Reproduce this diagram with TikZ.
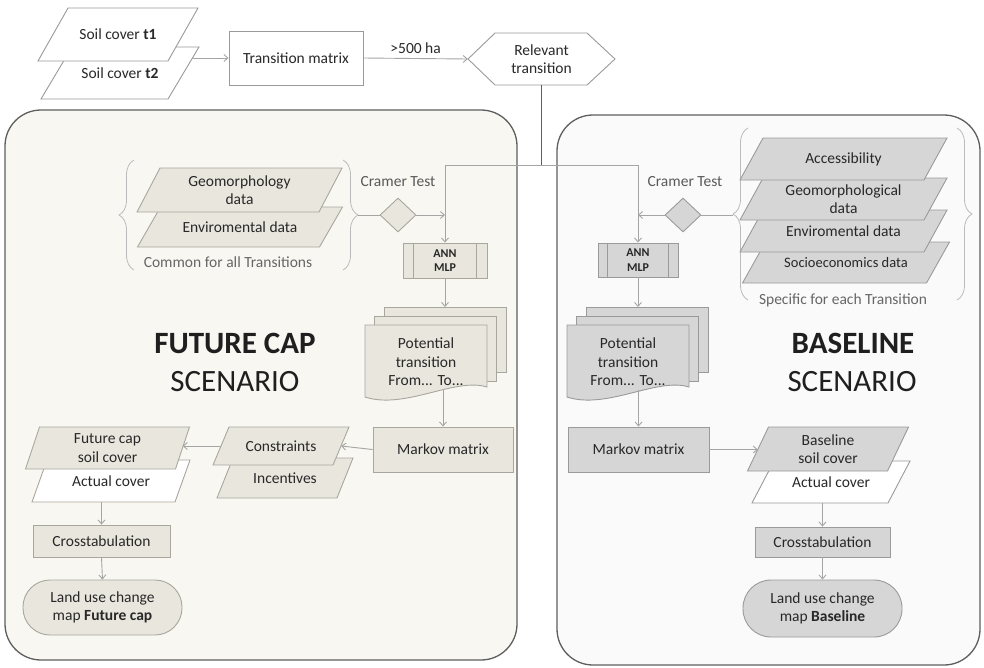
\documentclass[tikz,border=0pt]{standalone}
\usepackage{fontspec}
\setmainfont{Carlito}
\usetikzlibrary{arrows.meta,shapes.geometric,decorations.pathreplacing,calc}
\definecolor{beige}{HTML}{E9E6DD}
\definecolor{beigeb}{HTML}{A9A69E}
\definecolor{grayf}{HTML}{D6D6D6}
\definecolor{grayb}{HTML}{9A9A9A}
\definecolor{panL}{HTML}{F8F7F2}
\definecolor{panR}{HTML}{FAFAFA}
\definecolor{panB}{HTML}{5E5E5E}
\definecolor{txt}{HTML}{282828}
\definecolor{lnc}{HTML}{A5A5A5}
\definecolor{brc}{HTML}{BBBBBB}

\tikzset{
  txtnode/.style={inner sep=0pt, align=center, text=txt, font=\fontsize{15.5}{18.5}\selectfont},
  wshape/.style={fill=white, draw=grayb, line width=0.9pt},
  wbshape/.style={fill=white, draw=beigeb, line width=0.9pt},
  bshape/.style={fill=beige, draw=beigeb, line width=0.9pt},
  gshape/.style={fill=grayf, draw=grayb, line width=0.9pt},
  bbox/.style={txtnode, rectangle, fill=beige, draw=beigeb, line width=0.9pt},
  gbox/.style={txtnode, rectangle, fill=grayf, draw=grayb, line width=0.9pt},
  topbox/.style={txtnode, rectangle, fill=white, draw=grayb, line width=0.9pt},
  annbox/.style={rectangle, inner sep=0pt, align=center, text=txt, font=\bfseries\fontsize{12}{14.5}\selectfont, minimum width=84pt, minimum height=35pt, line width=0.9pt},
  panel/.style={rectangle, draw=panB, line width=1.3pt, rounded corners=36pt, inner sep=0pt},
  ln/.style={draw=lnc, line width=0.9pt},
  arr/.style={ln, -{Straight Barb[length=4pt,width=7pt]}},
  darkln/.style={draw=panB, line width=1.3pt},
  bracest/.style={draw=brc, line width=0.8pt, decorate, decoration={brace, amplitude=15pt}},
  title/.style={inner sep=0pt, text=black!88, font=\fontsize{31}{36}\selectfont},
  note/.style={txtnode, text=black!60},
}

% parallelogram: name, cx, cy, mid width, height, slant, style, text
\newcommand\pgram[8]{%
  \filldraw[#7] ({#2-#4/2+#6/2},{#3-#5/2}) -- ++(#4,0) -- ++({-#6},#5) -- ++({-#4},0) -- cycle;
  \node[txtnode, minimum width=#4pt, minimum height=#5pt] (#1) at (#2,#3) {#8};
}
% document stack: name, front x, front top y, style, text
\newcommand\docstack[5]{%
  \filldraw[#4] ({#2+19},{#3-18}) rectangle ({#2+141},{#3+47});
  \filldraw[#4] ({#2+9},{#3-9}) rectangle ({#2+131},{#3+56});
  \filldraw[#4] (#2,#3) -- ({#2+122},#3) -- ({#2+122},{#3+62}) .. controls ({#2+90},{#3+52}) and ({#2+40},{#3+85}) .. (#2,{#3+72}) -- cycle;
  \node[txtnode, minimum width=122pt, minimum height=65pt, anchor=north] (#1) at ({#2+61},{#3+4}) {#5};
  \coordinate (#1top) at ({#2+80},{#3-18});
}

\begin{document}
\begin{tikzpicture}[x=1pt,y=-1pt]
\useasboundingbox (0,0) rectangle (984,667);

% panels
\node[panel, fill=panL, minimum width=512pt, minimum height=550pt] (panelL) at (261,385) {};
\node[panel, fill=panR, minimum width=423pt, minimum height=550pt] (panelR) at (768.5,390) {};

% top row
\pgram{t2}{120}{73}{127}{52}{31}{wshape}{Soil cover \textbf{t2}}
\pgram{t1}{118}{34.5}{130}{53}{30}{wshape}{Soil cover \textbf{t1}}
\node[topbox, minimum width=134pt, minimum height=54pt] (trans) at (296,58) {Transition matrix};
\filldraw[wshape] (468,59) -- (495,33) -- (587,33) -- (615,59) -- (587,85) -- (495,85) -- cycle;
\node[txtnode, minimum width=147pt, minimum height=52pt] (rel) at (541.5,59) {Relevant\\transition};
\coordinate (soilout) at (192,58);
\draw[arr] (soilout) -- (trans.west);
\draw[arr] (trans.east) -- node[txtnode, midway, above=4pt] (ha) {>500 ha} (rel.west);

% left panel
\draw[bracest] (134,270) -- (134,160);
\draw[bracest] (343,160) -- (343,270);
\coordinate (bLr) at (358,215);
\pgram{envL}{240}{227}{182}{40}{23}{bshape}{Enviromental data}
\pgram{geoL}{239.5}{190}{182}{44}{23}{bshape}{Geomorphology\\data}
\node[note] (commonL) at (228,262) {Common for all Transitions};
\node[txtnode, text=black!65] (cramL) at (398,182) {Cramer Test};
\node[diamond, aspect=1.06, fill=beige, draw=beigeb, line width=0.9pt, minimum width=36pt, minimum height=34pt, inner sep=0pt] (dL) at (398,215) {};
\node[annbox, fill=beige, draw=beigeb] (annL) at (445,260.5) {ANN\\MLP};
\draw[draw=beigeb, line width=0.9pt] ([xshift=11pt]annL.north west) -- ([xshift=11pt]annL.south west);
\draw[draw=beigeb, line width=0.9pt] ([xshift=-11pt]annL.north east) -- ([xshift=-11pt]annL.south east);
\docstack{docL}{365}{325}{bshape}{Potential\\transition\\From... To...}
\node[title, font=\bfseries\fontsize{31}{36}\selectfont] (futL1) at (235,343) {FUTURE CAP};
\node[title] (futL2) at (235,382) {SCENARIO};
\node[bbox, minimum width=140pt, minimum height=45pt] (markL) at (443,449.5) {Markov matrix};
\pgram{incent}{285}{478}{120}{40}{16}{bshape}{Incentives}
\pgram{constr}{281}{446}{120}{38}{16}{bshape}{Constraints}
\pgram{actL}{111}{481}{143}{42}{15}{wbshape}{Actual cover}
\pgram{fcap}{107.5}{448}{150}{42}{14}{bshape}{Future cap\\soil cover}
\node[bbox, minimum width=137pt, minimum height=32pt] (crossL) at (101.5,541) {Crosstabulation};
\node[bbox, rounded corners=27pt, minimum width=159pt, minimum height=55pt] (termL) at (102.5,607.5) {Land use change\\map \textbf{Future cap}};

% right panel
\draw[bracest] (748,300) -- (748,128);
\draw[bracest] (957,128) -- (957,300);
\coordinate (bRl) at (733,215);
\pgram{socio}{846}{262.5}{184}{41}{23}{gshape}{\fontsize{14.5}{17}\selectfont Socioeconomics data}
\pgram{envR}{843.5}{231}{184}{42}{23}{gshape}{Enviromental data}
\pgram{geoR}{843.5}{199}{184}{42}{23}{gshape}{Geomorphological\\data}
\pgram{access}{843.5}{159}{184}{42}{23}{gshape}{Accessibility}
\node[note] (specR) at (843,300) {Specific for each Transition};
\node[txtnode, text=black!65] (cramR) at (685,182) {Cramer Test};
\node[diamond, aspect=1.06, fill=grayf, draw=grayb, line width=0.9pt, minimum width=36pt, minimum height=34pt, inner sep=0pt] (dR) at (683,215) {};
\node[annbox, fill=grayf, draw=grayb, minimum width=80pt, minimum height=34pt] (annR) at (638,260) {ANN\\MLP};
\draw[draw=grayb, line width=0.9pt] ([xshift=10pt]annR.north west) -- ([xshift=10pt]annR.south west);
\draw[draw=grayb, line width=0.9pt] ([xshift=-10pt]annR.north east) -- ([xshift=-10pt]annR.south east);
\docstack{docR}{567}{325}{gshape}{Potential\\transition\\From... To...}
\node[title, font=\bfseries\fontsize{31}{36}\selectfont] (baseR1) at (853,343) {BASELINE};
\node[title] (baseR2) at (852,382) {SCENARIO};
\node[gbox, minimum width=141pt, minimum height=45pt] (markR) at (638.5,449.5) {Markov matrix};
\pgram{actR}{831}{482}{136}{42}{22}{wshape}{Actual cover}
\pgram{bsoil}{828}{449}{140}{44}{21}{gshape}{Baseline\\soil cover}
\node[gbox, minimum width=135pt, minimum height=30pt] (crossR) at (822.5,542) {Crosstabulation};
\node[gbox, rounded corners=28pt, minimum width=159pt, minimum height=57pt] (termR) at (822.5,608.5) {Land use change\\map \textbf{Baseline}};

% connectors
\coordinate (jL) at (445,165);
\coordinate (jR) at (638,165);
\draw[darkln] (rel.south) -- (rel.south |- jL);
\draw[ln] (jL) -- (jR);
\draw[arr] (jL) -- (annL.north);
\draw[arr] (jR) -- (annR.north);
\draw[ln] (bLr) -- (dL.west);
\draw[arr] (dL.east) -- (dL.east -| annL.north);
\draw[ln] (bRl) -- (dR.east);
\draw[arr] (dR.west) -- (dR.west -| annR.north);
\draw[arr] (annL.south) -- (annL.south |- docLtop);
\draw[arr] (annR.south) -- (annR.south |- docRtop);
\draw[arr] ([yshift=4pt]docL.south -| markL.north) -- (markL.north);
\draw[arr] ([yshift=4pt]docR.south -| markR.north) -- (markR.north);
\draw[arr] (markL.west) -- (constr.east);
\draw[arr] (constr.west) -- (constr.west -| fcap.east);
\draw[arr] (crossL.north |- actL.south) -- (crossL.north);
\draw[arr] (crossL.south) -- (termL.north);
\draw[arr] (markR.east) -- (markR.east -| bsoil.west);
\draw[arr] (crossR.north |- actR.south) -- (crossR.north);
\draw[arr] (crossR.south) -- (termR.north);
\end{tikzpicture}
\end{document}
